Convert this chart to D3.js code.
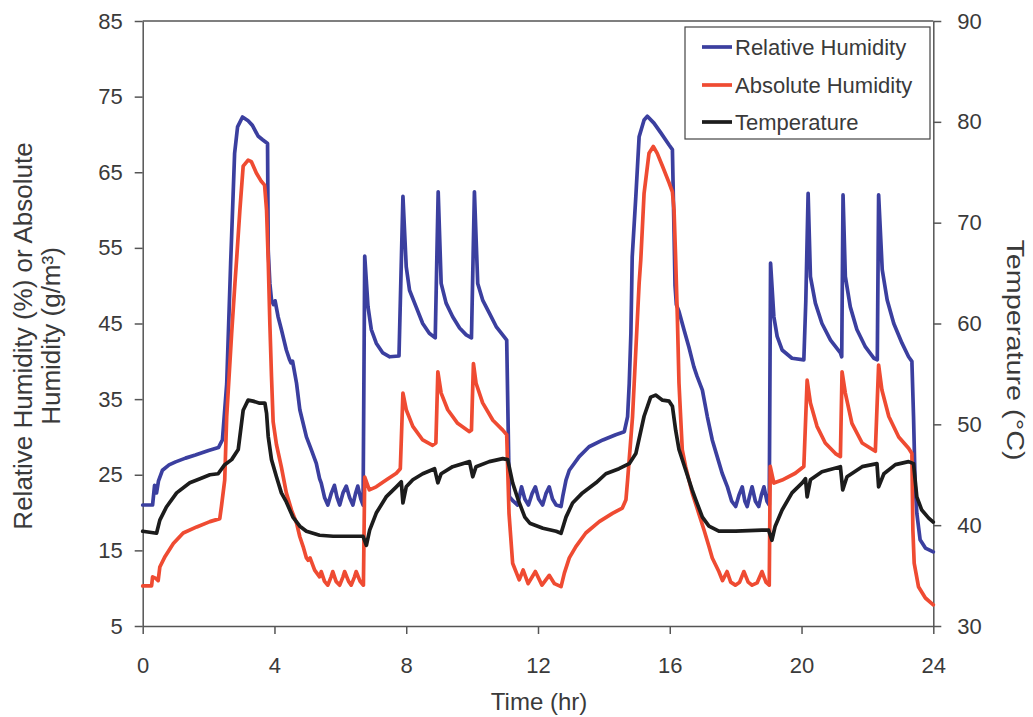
<!DOCTYPE html>
<html>
<head>
<meta charset="utf-8">
<script src="https://cdn.jsdelivr.net/npm/d3@7"></script>
<style>
  body { margin: 0; background: #fff; }
  svg text { font-family: "Liberation Sans", Arial, sans-serif; fill: #3a3a3a; }
</style>
</head>
<body>
<svg id="chart" width="1033" height="717"></svg>
<script>
// values: [time (hr), value]
const rhPoints = [
  [0,21.0],[0.3,21.0],[0.36,23.6],[0.42,22.6],[0.48,24.2],[0.6,25.6],[0.8,26.3],[1.0,26.7],[1.3,27.2],[1.6,27.6],
  [2.0,28.2],[2.3,28.6],[2.42,29.6],[2.55,37.0],[2.67,53.0],[2.79,67.5],[2.88,71.0],[3.03,72.3],[3.2,71.8],[3.33,71.2],
  [3.5,69.8],[3.64,69.3],[3.79,68.8],[3.81,54.7],[3.86,50.3],[3.91,48.1],[3.97,47.5],[4.02,48.0],[4.11,45.9],[4.21,44.2],
  [4.36,41.5],[4.46,40.2],[4.5,39.8],[4.55,40.0],[4.67,37.1],[4.77,33.6],[4.82,32.7],[4.97,30.0],[5.12,28.3],[5.27,26.5],
  [5.37,24.5],[5.42,23.9],[5.52,22.0],[5.62,21.0],[5.72,22.5],[5.82,23.6],[5.9,22.0],[5.98,21.0],[6.08,22.6],[6.18,23.5],
  [6.28,22.0],[6.38,21.0],[6.46,22.5],[6.53,23.5],[6.62,21.8],[6.69,21.0],[6.74,53.9],[6.84,47.2],[6.94,44.2],[7.09,42.4],
  [7.29,41.1],[7.5,40.6],[7.78,40.7],[7.9,61.8],[8.0,52.5],[8.1,49.4],[8.3,47.2],[8.5,45.0],[8.7,43.7],[8.88,43.1],
  [8.97,62.4],[9.06,50.3],[9.21,47.7],[9.41,45.9],[9.62,44.4],[9.82,43.5],[9.98,43.1],[10.07,62.4],[10.17,50.3],[10.32,48.1],
  [10.52,46.4],[10.73,44.6],[10.98,43.2],[11.05,42.8],[11.13,22.1],[11.25,21.5],[11.38,21.0],[11.5,23.4],[11.6,21.8],[11.71,21.0],
  [11.82,22.5],[11.92,23.4],[12.02,21.8],[12.14,21.0],[12.24,22.5],[12.34,23.4],[12.44,21.8],[12.55,21.0],[12.7,20.8],[12.75,22.1],
  [12.85,24.3],[12.95,25.6],[13.25,27.4],[13.55,28.7],[13.97,29.6],[14.36,30.3],[14.62,30.7],[14.72,32.7],[14.77,37.1],[14.82,43.7],
  [14.86,53.8],[14.97,61.8],[15.07,69.7],[15.22,71.9],[15.32,72.4],[15.52,71.5],[15.73,70.2],[15.98,68.6],[16.08,68.0],[16.13,57.0],
  [16.16,50.0],[16.2,47.5],[16.28,46.6],[16.43,44.2],[16.58,41.9],[16.73,39.3],[16.83,38.0],[16.99,36.2],[17.14,32.7],[17.29,29.6],
  [17.44,27.4],[17.59,25.2],[17.75,23.4],[17.88,21.5],[18.0,20.8],[18.1,22.3],[18.2,23.4],[18.28,21.5],[18.35,20.8],[18.43,22.3],
  [18.5,23.4],[18.6,21.5],[18.7,20.8],[18.78,22.3],[18.86,23.4],[18.95,21.5],[19.02,21.0],[19.06,53.0],[19.16,45.9],[19.26,43.3],
  [19.41,41.5],[19.71,40.4],[20.07,40.2],[20.13,48.0],[20.2,62.2],[20.27,51.2],[20.42,47.7],[20.62,45.0],[20.88,42.8],[21.18,41.1],
  [21.22,40.6],[21.26,62.0],[21.33,51.2],[21.48,47.2],[21.68,44.2],[21.94,41.9],[22.2,40.4],[22.3,40.2],[22.34,62.0],[22.45,52.1],
  [22.6,48.1],[22.8,45.0],[23.05,42.4],[23.25,40.6],[23.35,40.0],[23.4,32.7],[23.45,23.5],[23.5,19.9],[23.6,16.4],[23.76,15.3],
  [24.0,14.8]
];

const ahPoints = [
  [0,10.3],[0.27,10.3],[0.3,11.5],[0.4,11.3],[0.47,11.0],[0.52,12.8],[0.68,14.2],[0.93,15.9],[1.23,17.3],[1.64,18.1],
  [2.04,18.8],[2.34,19.2],[2.39,20.8],[2.49,24.3],[2.55,32.7],[2.7,43.7],[2.8,50.3],[2.85,53.4],[2.95,60.0],[3.05,65.8],
  [3.2,66.6],[3.3,66.4],[3.45,64.9],[3.6,63.8],[3.7,63.3],[3.76,60.0],[3.81,53.4],[3.86,45.0],[3.91,38.0],[3.96,32.0],
  [4.06,29.0],[4.21,26.0],[4.36,22.6],[4.52,20.3],[4.67,18.6],[4.77,16.8],[4.87,15.5],[4.97,14.0],[5.02,13.7],[5.08,14.0],
  [5.22,12.4],[5.37,11.5],[5.42,12.2],[5.52,10.9],[5.62,10.4],[5.72,11.5],[5.77,12.2],[5.87,10.9],[5.98,10.4],[6.08,11.5],
  [6.13,12.2],[6.25,10.9],[6.33,10.4],[6.43,11.5],[6.48,12.2],[6.6,10.9],[6.7,10.4],[6.74,24.7],[6.88,23.0],[7.09,23.4],
  [7.39,24.3],[7.7,25.2],[7.82,25.8],[7.9,35.8],[8.0,33.6],[8.2,31.4],[8.5,29.6],[8.8,28.9],[8.9,29.2],[8.96,38.6],
  [9.06,35.8],[9.26,33.6],[9.56,31.8],[9.92,30.7],[9.98,30.9],[10.04,39.7],[10.12,37.1],[10.32,34.5],[10.63,32.2],[10.93,30.9],
  [11.05,30.3],[11.12,19.9],[11.23,13.3],[11.43,11.1],[11.55,12.4],[11.7,10.6],[11.92,12.2],[12.12,10.4],[12.34,11.7],[12.5,10.6],
  [12.7,10.2],[12.8,12.0],[12.95,14.0],[13.15,15.5],[13.45,17.3],[13.86,18.8],[14.26,19.9],[14.56,20.6],[14.67,21.7],[14.72,24.3],
  [14.87,32.7],[14.97,41.5],[15.07,50.3],[15.12,53.4],[15.22,62.2],[15.37,67.5],[15.5,68.4],[15.62,67.5],[15.78,65.8],[15.98,63.6],
  [16.08,62.4],[16.13,60.0],[16.18,53.4],[16.23,45.9],[16.28,37.1],[16.38,28.3],[16.48,26.1],[16.68,22.6],[16.88,19.9],[17.04,17.7],
  [17.19,15.5],[17.29,14.0],[17.49,12.2],[17.6,11.0],[17.74,12.2],[17.85,10.8],[17.99,10.4],[18.12,10.8],[18.25,12.2],[18.38,10.8],
  [18.5,10.4],[18.65,10.7],[18.8,12.2],[18.92,10.8],[19.02,10.4],[19.05,26.1],[19.16,23.9],[19.41,24.3],[19.81,25.2],[20.07,26.1],
  [20.17,37.5],[20.27,34.5],[20.47,31.4],[20.72,29.2],[21.03,27.8],[21.18,27.4],[21.23,38.6],[21.33,35.8],[21.53,31.8],[21.84,29.2],
  [22.24,28.1],[22.34,39.5],[22.44,36.2],[22.65,32.7],[22.95,30.0],[23.25,28.5],[23.35,27.8],[23.38,17.7],[23.42,13.3],[23.55,10.2],
  [23.76,8.7],[24.0,7.8]
];

const tempPoints = [
  [0,39.4],[0.42,39.2],[0.52,40.5],[0.72,41.8],[1.03,43.2],[1.43,44.2],[1.74,44.6],[2.04,45.0],[2.29,45.1],[2.49,46.0],
  [2.7,46.5],[2.9,47.5],[3.05,51.4],[3.2,52.4],[3.35,52.3],[3.55,52.1],[3.71,52.1],[3.76,51.1],[3.81,48.8],[3.91,46.5],
  [4.06,44.8],[4.21,43.2],[4.36,42.3],[4.56,40.8],[4.77,39.9],[4.97,39.4],[5.37,39.0],[5.78,38.9],[6.28,38.9],[6.69,38.9],
  [6.79,38.0],[6.89,39.5],[7.09,41.2],[7.39,42.8],[7.7,43.8],[7.85,44.3],[7.9,42.2],[8.0,43.8],[8.2,44.5],[8.5,45.1],
  [8.86,45.6],[8.96,44.2],[9.06,45.1],[9.41,45.8],[9.92,46.3],[10.02,44.8],[10.12,45.8],[10.52,46.3],[10.93,46.6],[11.08,46.5],
  [11.23,44.2],[11.4,42.5],[11.6,40.8],[11.75,40.2],[12.15,39.7],[12.55,39.4],[12.7,39.2],[12.85,40.8],[13.05,42.2],[13.35,43.2],
  [13.76,44.2],[14.06,45.1],[14.46,45.6],[14.77,46.1],[14.97,47.1],[15.22,50.8],[15.42,52.7],[15.57,52.9],[15.78,52.4],[15.98,52.3],
  [16.08,51.8],[16.18,49.4],[16.28,47.5],[16.48,45.5],[16.68,43.5],[16.79,42.5],[16.99,40.8],[17.19,39.9],[17.49,39.4],[18.0,39.4],
  [18.8,39.5],[19.0,39.5],[19.1,38.5],[19.2,39.9],[19.41,41.5],[19.71,43.2],[20.02,44.2],[20.12,44.6],[20.17,42.8],[20.27,44.5],
  [20.62,45.3],[21.18,45.8],[21.25,43.5],[21.38,44.8],[21.84,45.8],[22.29,46.1],[22.34,43.8],[22.5,45.1],[22.85,46.0],[23.25,46.3],
  [23.4,46.1],[23.5,42.8],[23.65,41.5],[23.86,40.7],[24.0,40.3]
];

const xTicks = [0, 4, 8, 12, 16, 20, 24];
const leftTicks = [5, 15, 25, 35, 45, 55, 65, 75, 85];
const rightTicks = [30, 40, 50, 60, 70, 80, 90];
const legendLabels = ["Relative Humidity", "Absolute Humidity", "Temperature"];
const colors = ["#3b3f9f", "#ef4b32", "#1c1c1c"];

const svg = d3.select("#chart");

const x = d3.scaleLinear().domain([0, 24]).range([142.7, 933.3]);
const yL = d3.scaleLinear().domain([5, 85]).range([626, 21]);
const yR = d3.scaleLinear().domain([30, 90]).range([626, 21]);

// axes
const axisColor = "#555";
function styleAxis(g) {
    g.select(".domain").attr("stroke", axisColor).attr("stroke-width", 1.5);
    g.selectAll(".tick line").attr("stroke", axisColor).attr("stroke-width", 1.5);
    g.selectAll(".tick text").style("font-size", "22px").attr("fill", "#3a3a3a");
}

svg.append("g")
    .attr("transform", "translate(" + x(0) + ",0)")
    .call(d3.axisLeft(yL).tickValues(leftTicks).tickSize(8).tickSizeOuter(0).tickPadding(12))
    .call(styleAxis);

svg.append("g")
    .attr("transform", "translate(0," + yL(5) + ")")
    .call(d3.axisBottom(x).tickValues(xTicks).tickSize(8).tickSizeOuter(0).tickPadding(23))
    .call(styleAxis);

svg.append("g")
    .attr("transform", "translate(" + x(24) + ",0)")
    .call(d3.axisRight(yR).tickValues(rightTicks).tickSize(8).tickSizeOuter(0).tickPadding(16))
    .call(styleAxis);

// top border of the plot
svg.append("line")
    .attr("x1", x(0)).attr("x2", x(24))
    .attr("y1", yL(85)).attr("y2", yL(85))
    .attr("stroke", axisColor).attr("stroke-width", 1.5);

// series
const lineL = d3.line().x(d => x(d[0])).y(d => yL(d[1]));
const lineR = d3.line().x(d => x(d[0])).y(d => yR(d[1]));

const series = [
    { data: rhPoints, gen: lineL, color: colors[0] },
    { data: ahPoints, gen: lineL, color: colors[1] },
    { data: tempPoints, gen: lineR, color: colors[2] }
];

series.forEach(s => {
    svg.append("path")
        .datum(s.data)
        .attr("fill", "none")
        .attr("stroke", s.color)
        .attr("stroke-width", 3.7)
        .attr("stroke-linejoin", "round")
        .attr("stroke-linecap", "round")
        .attr("d", s.gen);
});

// axis titles
svg.append("text")
    .attr("x", 539).attr("y", 710)
    .attr("text-anchor", "middle")
    .style("font-size", "24px")
    .text("Time (hr)");

svg.append("text")
    .attr("transform", "translate(32,336) rotate(-90)")
    .attr("text-anchor", "middle")
    .style("font-size", "26px")
    .text("Relative Humidity (%) or Absolute");

svg.append("text")
    .attr("transform", "translate(60,336) rotate(-90)")
    .attr("text-anchor", "middle")
    .style("font-size", "26px")
    .text("Humidity (g/m³)");

// the scan stretches this title along its length
svg.append("text")
    .attr("transform", "translate(1007,350) rotate(90) scale(1.2,1)")
    .attr("text-anchor", "middle")
    .style("font-size", "24px")
    .text("Temperature (°C)");

// legend
const legend = svg.append("g");
legend.append("rect")
    .attr("x", 685).attr("y", 27)
    .attr("width", 245).attr("height", 112)
    .attr("fill", "#fff")
    .attr("stroke", "#444").attr("stroke-width", 1.2);

const rowY = [47, 85, 122];
legendLabels.forEach((lab, i) => {
    legend.append("line")
        .attr("x1", 702).attr("x2", 732)
        .attr("y1", rowY[i]).attr("y2", rowY[i])
        .attr("stroke", colors[i]).attr("stroke-width", 3.7);
    legend.append("text")
        .attr("x", 735).attr("y", rowY[i] + 8)
        .style("font-size", "22px")
        .text(lab);
});
</script>
</body>
</html>
